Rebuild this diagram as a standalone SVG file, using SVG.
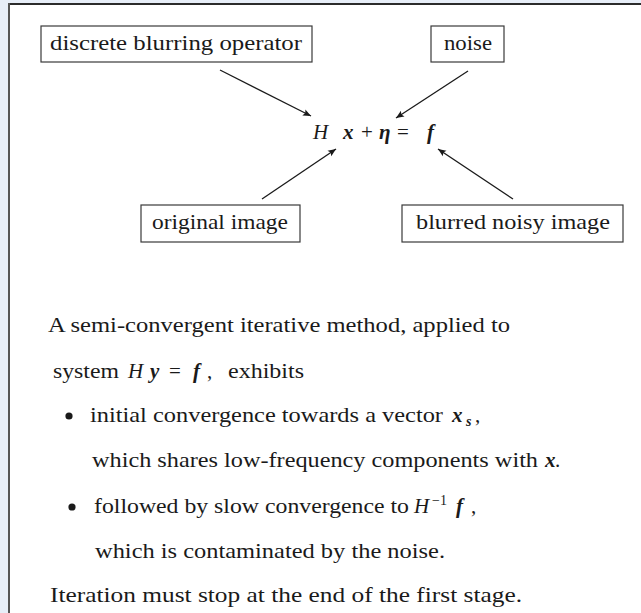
<svg xmlns="http://www.w3.org/2000/svg" width="641" height="613" viewBox="0 0 641 613">
  <defs>
    <marker id="arrow" viewBox="0 0 10 10" refX="10" refY="5" markerWidth="10" markerHeight="8" markerUnits="userSpaceOnUse" orient="auto">
      <path d="M0,0.8 L10,5 L0,9.2 L2,5 Z" fill="#1a1a1a"/>
    </marker>
    <style>
      .it { font-style: italic; }
      .vec { font-style: italic; font-weight: bold; }
      .sm { font-size: 14px; }
      .box { fill: #ffffff; stroke: #3a3a3a; stroke-width: 1.2; }
      .conn { stroke: #1a1a1a; stroke-width: 1.3; fill: none; marker-end: url(#arrow); }
    </style>
  </defs>

  <!-- page background and framed panel -->
  <rect x="0" y="0" width="641" height="613" fill="#e7eef8"/>
  <rect x="9" y="4" width="640" height="620" fill="#ffffff"/>
  <line x1="8" y1="4" x2="641" y2="4" stroke="#2b2b2b" stroke-width="2"/>
  <line x1="9" y1="3" x2="9" y2="613" stroke="#555555" stroke-width="2"/>

  <g font-family="Liberation Serif, serif" font-size="21" fill="#1a1a1a">
    <!-- labelled boxes -->
    <g id="blur-operator">
      <rect class="box" x="41" y="26" width="271" height="36"/>
      <text x="50" y="50" textLength="252" lengthAdjust="spacingAndGlyphs">discrete blurring operator</text>
    </g>
    <g id="noise">
      <rect class="box" x="431" y="26" width="73" height="36"/>
      <text x="444" y="50" textLength="48" lengthAdjust="spacingAndGlyphs">noise</text>
    </g>
    <g id="original-image">
      <rect class="box" x="141" y="205" width="159" height="37"/>
      <text x="152" y="229" textLength="136" lengthAdjust="spacingAndGlyphs">original image</text>
    </g>
    <g id="blurred-image">
      <rect class="box" x="402" y="205" width="221" height="37"/>
      <text x="416" y="229" textLength="194" lengthAdjust="spacingAndGlyphs">blurred noisy image</text>
    </g>

    <!-- central model equation -->
    <g id="model-equation">
      <text y="139"><tspan class="it" x="313">H</tspan><tspan class="vec" x="343">x</tspan><tspan x="361">+</tspan><tspan class="vec" x="379">η</tspan><tspan x="397">=</tspan><tspan class="vec" x="427">f</tspan></text>
    </g>

    <!-- connectors -->
    <g id="connectors">
      <line class="conn" x1="220" y1="70" x2="311" y2="116"/>
      <line class="conn" x1="468" y1="71" x2="396" y2="118"/>
      <line class="conn" x1="262" y1="199" x2="336" y2="149"/>
      <line class="conn" x1="513" y1="199" x2="438" y2="149"/>
    </g>

    <!-- explanatory text -->
    <g id="explanation">
      <text x="48" y="332" textLength="462" lengthAdjust="spacingAndGlyphs">A semi-convergent iterative method, applied to</text>
      <text y="378"><tspan x="53" textLength="66" lengthAdjust="spacingAndGlyphs">system</tspan><tspan class="it" x="128">H</tspan><tspan class="vec" x="150">y</tspan><tspan x="169">=</tspan><tspan class="vec" x="193">f</tspan><tspan x="207">,</tspan><tspan x="228" textLength="76" lengthAdjust="spacingAndGlyphs">exhibits</tspan></text>

      <circle cx="69" cy="416" r="3.6" fill="#1a1a1a"/>
      <text y="422"><tspan x="90" textLength="353" lengthAdjust="spacingAndGlyphs">initial convergence towards a vector</tspan><tspan class="vec" x="452">x</tspan><tspan class="vec sm" x="466" dy="4">s</tspan><tspan x="475" dy="-4">,</tspan></text>
      <text y="467"><tspan x="92" textLength="446" lengthAdjust="spacingAndGlyphs">which shares low-frequency components with</tspan><tspan class="vec" x="545">x</tspan><tspan x="555">.</tspan></text>

      <circle cx="72" cy="507" r="3.6" fill="#1a1a1a"/>
      <text y="513"><tspan x="94" textLength="315" lengthAdjust="spacingAndGlyphs">followed by slow convergence to</tspan><tspan class="it" x="414">H</tspan><tspan class="sm" x="432" dy="-8">−1</tspan><tspan class="vec" x="456" dy="8">f</tspan><tspan x="471">,</tspan></text>
      <text x="95" y="558" textLength="350" lengthAdjust="spacingAndGlyphs">which is contaminated by the noise.</text>

      <text x="50" y="602" textLength="472" lengthAdjust="spacingAndGlyphs">Iteration must stop at the end of the first stage.</text>
    </g>
  </g>
</svg>
